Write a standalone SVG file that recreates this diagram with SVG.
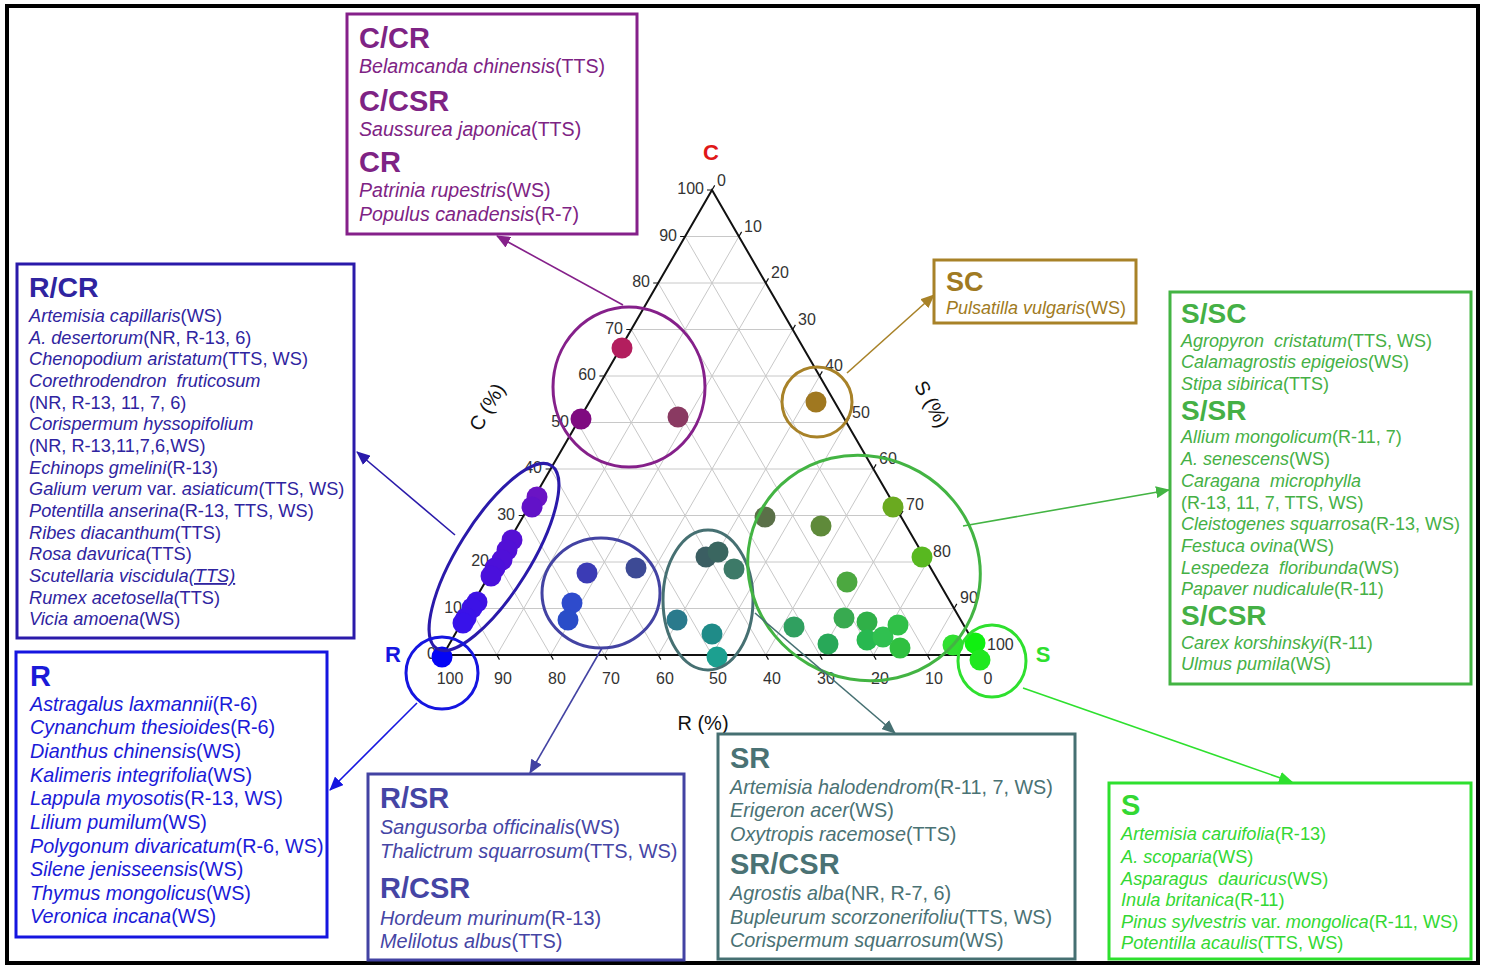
<svg xmlns="http://www.w3.org/2000/svg" width="1486" height="967" viewBox="0 0 1486 967">
<style>
text{font-family:"Liberation Sans",Arial,sans-serif}
.box{fill:#fff;stroke-width:3}
.t{font-weight:bold}
.i{font-style:italic}
.n{font-style:normal}
.tick{font-size:16px;fill:#333}
.grid{stroke:#c8c8c8;stroke-width:1;fill:none}
.ring{fill:none;stroke-width:3}
.con{fill:none;stroke-width:1.6}
</style>
<defs>
<marker id="aPu" markerUnits="userSpaceOnUse" markerWidth="14" markerHeight="12" refX="13" refY="6" orient="auto"><path d="M0,0 L14,6 L0,12 z" fill="#85208A"/></marker>
<marker id="aSC" markerUnits="userSpaceOnUse" markerWidth="14" markerHeight="12" refX="13" refY="6" orient="auto"><path d="M0,0 L14,6 L0,12 z" fill="#A88228"/></marker>
<marker id="aRC" markerUnits="userSpaceOnUse" markerWidth="14" markerHeight="12" refX="13" refY="6" orient="auto"><path d="M0,0 L14,6 L0,12 z" fill="#2A1AAA"/></marker>
<marker id="aR" markerUnits="userSpaceOnUse" markerWidth="14" markerHeight="12" refX="13" refY="6" orient="auto"><path d="M0,0 L14,6 L0,12 z" fill="#1515E0"/></marker>
<marker id="aRS" markerUnits="userSpaceOnUse" markerWidth="14" markerHeight="12" refX="13" refY="6" orient="auto"><path d="M0,0 L14,6 L0,12 z" fill="#4343A3"/></marker>
<marker id="aSR" markerUnits="userSpaceOnUse" markerWidth="14" markerHeight="12" refX="13" refY="6" orient="auto"><path d="M0,0 L14,6 L0,12 z" fill="#467072"/></marker>
<marker id="aG" markerUnits="userSpaceOnUse" markerWidth="14" markerHeight="12" refX="13" refY="6" orient="auto"><path d="M0,0 L14,6 L0,12 z" fill="#43B443"/></marker>
<marker id="aS" markerUnits="userSpaceOnUse" markerWidth="14" markerHeight="12" refX="13" refY="6" orient="auto"><path d="M0,0 L14,6 L0,12 z" fill="#2EE02E"/></marker>
</defs>
<rect x="0" y="0" width="1486" height="967" fill="#fff"/>
<rect x="7" y="6" width="1471" height="957" fill="none" stroke="#000" stroke-width="4"/>

<!-- ternary plot -->
<g id="plot">
<path class="grid" d="M469.9,608.5H954.1M496.8,562H927.2M523.7,515.5H900.3M550.6,469H873.4M577.5,422.5H846.5M604.4,376H819.6M631.3,329.5H792.7M658.2,283H765.8M685.1,236.5H738.9
M496.8,655L738.9,236.5M550.6,655L765.8,283M604.4,655L792.7,329.5M658.2,655L819.6,376M712,655L846.5,422.5M765.8,655L873.4,469M819.6,655L900.3,515.5M873.4,655L927.2,562M927.2,655L954.1,608.5
M496.8,655L469.9,608.5M550.6,655L496.8,562M604.4,655L523.7,515.5M658.2,655L550.6,469M712,655L577.5,422.5M765.8,655L604.4,376M819.6,655L631.3,329.5M873.4,655L658.2,283M927.2,655L685.1,236.5"/>
<path d="M712,190L443,655L981,655Z" fill="none" stroke="#111" stroke-width="2"/>
<path stroke="#111" stroke-width="1.2" d="M443,655h-5M469.9,608.5h-5M496.8,562h-5M523.7,515.5h-5M550.6,469h-5M577.5,422.5h-5M604.4,376h-5M631.3,329.5h-5M658.2,283h-5M685.1,236.5h-5M712,190h-5
M712,190l2.7,-4.6M738.9,236.5l2.7,-4.6M765.8,283l2.7,-4.6M792.7,329.5l2.7,-4.6M819.6,376l2.7,-4.6M846.5,422.5l2.7,-4.6M873.4,469l2.7,-4.6M900.3,515.5l2.7,-4.6M927.2,562l2.7,-4.6M954.1,608.5l2.7,-4.6M981,655l2.7,-4.6
M443,655l2.7,4.6M496.8,655l2.7,4.6M550.6,655l2.7,4.6M604.4,655l2.7,4.6M658.2,655l2.7,4.6M712,655l2.7,4.6M765.8,655l2.7,4.6M819.6,655l2.7,4.6M873.4,655l2.7,4.6M927.2,655l2.7,4.6M981,655l2.7,4.6"/>
<g class="tick" text-anchor="end">
<text x="704" y="194">100</text><text x="677" y="241">90</text><text x="650" y="287">80</text><text x="623" y="334">70</text><text x="596" y="380">60</text><text x="569" y="427">50</text><text x="542" y="473">40</text><text x="515" y="520">30</text><text x="489" y="566">20</text><text x="462" y="613">10</text><text x="436" y="659">0</text>
</g>
<g class="tick">
<text x="717" y="186">0</text><text x="744" y="232">10</text><text x="771" y="278">20</text><text x="798" y="325">30</text><text x="825" y="371">40</text><text x="852" y="418">50</text><text x="879" y="464">60</text><text x="906" y="510">70</text><text x="933" y="557">80</text><text x="960" y="603">90</text><text x="987" y="650">100</text>
</g>
<g class="tick" text-anchor="middle">
<text x="450" y="684">100</text><text x="503" y="684">90</text><text x="557" y="684">80</text><text x="611" y="684">70</text><text x="665" y="684">60</text><text x="718" y="684">50</text><text x="772" y="684">40</text><text x="826" y="684">30</text><text x="880" y="684">20</text><text x="934" y="684">10</text><text x="988" y="684">0</text>
</g>
<text x="711" y="160" text-anchor="middle" font-size="22" font-weight="bold" fill="#E01818">C</text>
<text x="393" y="662" text-anchor="middle" font-size="22" font-weight="bold" fill="#1515E0">R</text>
<text x="1043" y="662" text-anchor="middle" font-size="22" font-weight="bold" fill="#2EE02E">S</text>
<text x="703" y="730" text-anchor="middle" font-size="20" fill="#111">R (%)</text>
<text transform="translate(487,407) rotate(-60)" text-anchor="middle" y="7" font-size="20" fill="#111">C (%)</text>
<text transform="translate(932,404) rotate(60)" text-anchor="middle" y="7" font-size="20" fill="#111">S (%)</text>

<!-- points -->
<g>
<circle cx="622" cy="348" r="10.5" fill="#B31E5E"/>
<circle cx="581" cy="419" r="10.5" fill="#7F0A80"/>
<circle cx="678" cy="417" r="10.5" fill="#8A3A62"/>
<circle cx="816" cy="402" r="10.5" fill="#A07820"/>
<circle cx="537" cy="497" r="10.5" fill="#6A14C4"/>
<circle cx="532" cy="507" r="10.5" fill="#6212C8"/>
<circle cx="512" cy="540" r="10.5" fill="#5510D4"/>
<circle cx="507" cy="550" r="10.5" fill="#5210D6"/>
<circle cx="502" cy="560" r="10.5" fill="#5010D8"/>
<circle cx="495" cy="568" r="10.5" fill="#4C10DA"/>
<circle cx="491" cy="576" r="10.5" fill="#4A10DC"/>
<circle cx="477" cy="602" r="10.5" fill="#3E12E4"/>
<circle cx="472" cy="608" r="10.5" fill="#3C12E6"/>
<circle cx="466" cy="618" r="10.5" fill="#3A12E8"/>
<circle cx="463" cy="623" r="10.5" fill="#3812EA"/>
<circle cx="442" cy="657" r="10.5" fill="#0505F5"/>
<circle cx="587" cy="573" r="10.5" fill="#3B3BB5"/>
<circle cx="636" cy="568" r="10.5" fill="#3D4A95"/>
<circle cx="572" cy="603" r="10.5" fill="#2E4BCC"/>
<circle cx="568" cy="620" r="10.5" fill="#2A4DC8"/>
<circle cx="706" cy="557" r="10.5" fill="#3B5E62"/>
<circle cx="718" cy="552" r="10.5" fill="#3A6660"/>
<circle cx="734" cy="569" r="10.5" fill="#3D7A68"/>
<circle cx="677" cy="620" r="10.5" fill="#2A7A8C"/>
<circle cx="712" cy="634" r="10.5" fill="#1F8B88"/>
<circle cx="717" cy="657" r="10.5" fill="#1CA090"/>
<circle cx="765" cy="517" r="10.5" fill="#5A7048"/>
<circle cx="821" cy="526" r="10.5" fill="#5F8A3A"/>
<circle cx="893" cy="507" r="10.5" fill="#6AAA20"/>
<circle cx="922" cy="557" r="10.5" fill="#58B820"/>
<circle cx="847" cy="582" r="10.5" fill="#4CA840"/>
<circle cx="794" cy="627" r="10.5" fill="#30A060"/>
<circle cx="828" cy="644" r="10.5" fill="#28A858"/>
<circle cx="844" cy="618" r="10.5" fill="#38AA50"/>
<circle cx="867" cy="622" r="10.5" fill="#30B048"/>
<circle cx="867" cy="640" r="10.5" fill="#28B850"/>
<circle cx="883" cy="637" r="10.5" fill="#30C050"/>
<circle cx="898" cy="625" r="10.5" fill="#30C048"/>
<circle cx="900" cy="648" r="10.5" fill="#30C040"/>
<circle cx="953" cy="645" r="10.5" fill="#30E030"/>
<circle cx="975" cy="643" r="10.5" fill="#10F010"/>
<circle cx="980" cy="660" r="10.5" fill="#20E820"/>
</g>
</g>

<!-- group rings -->
<g id="rings">
<ellipse class="ring" cx="629" cy="387" rx="76" ry="80" stroke="#85208A"/>
<circle class="ring" cx="817" cy="402" r="35" stroke="#A88228"/>
<ellipse class="ring" cx="494" cy="557" rx="108" ry="36" transform="rotate(-58 494 557)" stroke="#2A1AAA"/>
<circle class="ring" cx="442" cy="673" r="36" stroke="#1515E0"/>
<ellipse class="ring" cx="601" cy="593" rx="59" ry="55" stroke="#4343A3"/>
<ellipse class="ring" cx="708" cy="600" rx="45" ry="70" stroke="#467072"/>
<ellipse class="ring" cx="864" cy="568" rx="118" ry="111" transform="rotate(30 864 568)" stroke="#43B443"/>
<ellipse class="ring" cx="992" cy="661" rx="34" ry="36" stroke="#2EE02E"/>
</g>

<!-- connectors -->
<g id="connectors">
<line class="con" x1="623" y1="305" x2="497" y2="236" stroke="#85208A" marker-end="url(#aPu)"/>
<line class="con" x1="847" y1="373" x2="934" y2="295" stroke="#A88228" marker-end="url(#aSC)"/>
<line class="con" x1="455" y1="535" x2="357" y2="452" stroke="#2A1AAA" marker-end="url(#aRC)"/>
<line class="con" x1="417" y1="703" x2="330" y2="790" stroke="#1515E0" marker-end="url(#aR)"/>
<line class="con" x1="602" y1="648" x2="530" y2="773" stroke="#4343A3" marker-end="url(#aRS)"/>
<line class="con" x1="755" y1="613" x2="895" y2="733" stroke="#467072" marker-end="url(#aSR)"/>
<line class="con" x1="963" y1="526" x2="1169" y2="490" stroke="#43B443" marker-end="url(#aG)"/>
<line class="con" x1="1023" y1="688" x2="1292" y2="782" stroke="#2EE02E" marker-end="url(#aS)"/>
</g>

<!-- boxes -->
<g id="box-c" fill="#7E2384">
<rect class="box" x="347" y="14" width="290" height="220" stroke="#85208A"/>
<text x="359" y="48" class="t" font-size="29">C/CR</text>
<text x="359" y="73" font-size="19.6"><tspan class="i">Belamcanda chinensis</tspan>(TTS)</text>
<text x="359" y="111" class="t" font-size="29">C/CSR</text>
<text x="359" y="136" font-size="19.6"><tspan class="i">Saussurea japonica</tspan>(TTS)</text>
<text x="359" y="172" class="t" font-size="29">CR</text>
<text x="359" y="197" font-size="19.6"><tspan class="i">Patrinia rupestris</tspan>(WS)</text>
<text x="359" y="221" font-size="19.6"><tspan class="i">Populus canadensis</tspan>(R-7)</text>
</g>

<g id="box-rcr" fill="#2F24A0" font-size="18.2">
<rect class="box" x="17" y="264" width="337" height="374" stroke="#2A1AAA"/>
<text x="29" y="297" class="t" font-size="28.5">R/CR</text>
<text x="29" y="322"><tspan class="i">Artemisia capillaris</tspan>(WS)</text>
<text x="29" y="344"><tspan class="i">A. desertorum</tspan>(NR,  R-13, 6)</text>
<text x="29" y="365"><tspan class="i">Chenopodium aristatum</tspan>(TTS, WS)</text>
<text x="29" y="387" class="i" xml:space="preserve">Corethrodendron  fruticosum</text>
<text x="29" y="409">(NR, R-13, 11, 7, 6)</text>
<text x="29" y="430" class="i">Corispermum hyssopifolium</text>
<text x="29" y="452">(NR, R-13,11,7,6,WS)</text>
<text x="29" y="474"><tspan class="i">Echinops gmelini</tspan>(R-13)</text>
<text x="29" y="495"><tspan class="i">Galium verum</tspan> var. <tspan class="i">asiaticum</tspan>(TTS, WS)</text>
<text x="29" y="517"><tspan class="i">Potentilla anserina</tspan>(R-13, TTS, WS)</text>
<text x="29" y="539"><tspan class="i">Ribes diacanthum</tspan>(TTS)</text>
<text x="29" y="560"><tspan class="i">Rosa davurica</tspan>(TTS)</text>
<text x="29" y="582"><tspan class="i">Scutellaria viscidula</tspan><tspan class="i" text-decoration="underline">(TTS)</tspan></text>
<text x="29" y="604"><tspan class="i">Rumex acetosella</tspan>(TTS)</text>
<text x="29" y="625"><tspan class="i">Vicia amoena</tspan>(WS)</text>
</g>

<g id="box-r" fill="#1A1AD8" font-size="19.8">
<rect class="box" x="16" y="652" width="311" height="285" stroke="#1515E0"/>
<text x="30" y="686" class="t" font-size="29">R</text>
<text x="30" y="711"><tspan class="i">Astragalus laxmannii</tspan>(R-6)</text>
<text x="30" y="734"><tspan class="i">Cynanchum thesioides</tspan>(R-6)</text>
<text x="30" y="758"><tspan class="i">Dianthus chinensis</tspan>(WS)</text>
<text x="30" y="782"><tspan class="i">Kalimeris integrifolia</tspan>(WS)</text>
<text x="30" y="805"><tspan class="i">Lappula myosotis</tspan>(R-13, WS)</text>
<text x="30" y="829"><tspan class="i">Lilium pumilum</tspan>(WS)</text>
<text x="30" y="853"><tspan class="i">Polygonum divaricatum</tspan>(R-6, WS)</text>
<text x="30" y="876"><tspan class="i">Silene jenisseensis</tspan>(WS)</text>
<text x="30" y="900"><tspan class="i">Thymus mongolicus</tspan>(WS)</text>
<text x="30" y="923"><tspan class="i">Veronica incana</tspan>(WS)</text>
</g>

<g id="box-rsr" fill="#4545A5" font-size="19.9">
<rect class="box" x="368" y="774" width="316" height="186" stroke="#4343A3"/>
<text x="380" y="808" class="t" font-size="29">R/SR</text>
<text x="380" y="834"><tspan class="i">Sangusorba officinalis</tspan>(WS)</text>
<text x="380" y="858"><tspan class="i">Thalictrum squarrosum</tspan>(TTS, WS)</text>
<text x="380" y="898" class="t" font-size="29">R/CSR</text>
<text x="380" y="925"><tspan class="i">Hordeum murinum</tspan>(R-13)</text>
<text x="380" y="948"><tspan class="i">Melilotus albus</tspan>(TTS)</text>
</g>

<g id="box-sr" fill="#4A7274" font-size="19.8">
<rect class="box" x="718" y="734" width="357" height="225" stroke="#467072"/>
<text x="730" y="768" class="t" font-size="29">SR</text>
<text x="730" y="794"><tspan class="i">Artemisia halodendrom</tspan>(R-11, 7, WS)</text>
<text x="730" y="817"><tspan class="i">Erigeron acer</tspan>(WS)</text>
<text x="730" y="841"><tspan class="i">Oxytropis racemose</tspan>(TTS)</text>
<text x="730" y="874" class="t" font-size="29">SR/CSR</text>
<text x="730" y="900"><tspan class="i">Agrostis alba</tspan>(NR, R-7, 6)</text>
<text x="730" y="924"><tspan class="i">Bupleurum scorzonerifoliu</tspan>(TTS, WS)</text>
<text x="730" y="947"><tspan class="i">Corispermum squarrosum</tspan>(WS)</text>
</g>

<g id="box-s" fill="#33D833" font-size="18.2">
<rect class="box" x="1109" y="783" width="362" height="176" stroke="#2EE02E"/>
<text x="1121" y="815" class="t" font-size="29">S</text>
<text x="1121" y="840"><tspan class="i">Artemisia caruifolia</tspan>(R-13)</text>
<text x="1121" y="863"><tspan class="i">A. scoparia</tspan>(WS)</text>
<text x="1121" y="885"><tspan class="i" xml:space="preserve">Asparagus  dauricus</tspan>(WS)</text>
<text x="1121" y="906"><tspan class="i">Inula britanica</tspan>(R-11)</text>
<text x="1121" y="928"><tspan class="i">Pinus sylvestris</tspan> var. <tspan class="i">mongolica</tspan>(R-11, WS)</text>
<text x="1121" y="949"><tspan class="i">Potentilla acaulis</tspan>(TTS, WS)</text>
</g>

<g id="box-ssc" fill="#45B045" font-size="18">
<rect class="box" x="1170" y="292" width="301" height="392" stroke="#43B443"/>
<text x="1181" y="323" class="t" font-size="28">S/SC</text>
<text x="1181" y="347"><tspan class="i" xml:space="preserve">Agropyron  cristatum</tspan>(TTS, WS)</text>
<text x="1181" y="368"><tspan class="i">Calamagrostis epigeios</tspan>(WS)</text>
<text x="1181" y="390"><tspan class="i">Stipa sibirica</tspan>(TTS)</text>
<text x="1181" y="420" class="t" font-size="28">S/SR</text>
<text x="1181" y="443"><tspan class="i">Allium mongolicum</tspan>(R-11, 7)</text>
<text x="1181" y="465"><tspan class="i">A. senescens</tspan>(WS)</text>
<text x="1181" y="487" class="i" xml:space="preserve">Caragana  microphylla</text>
<text x="1181" y="509">(R-13, 11, 7, TTS, WS)</text>
<text x="1181" y="530"><tspan class="i">Cleistogenes squarrosa</tspan>(R-13, WS)</text>
<text x="1181" y="552"><tspan class="i">Festuca ovina</tspan>(WS)</text>
<text x="1181" y="574"><tspan class="i" xml:space="preserve">Lespedeza  floribunda</tspan>(WS)</text>
<text x="1181" y="595"><tspan class="i">Papaver nudicalule</tspan>(R-11)</text>
<text x="1181" y="625" class="t" font-size="28">S/CSR</text>
<text x="1181" y="649"><tspan class="i">Carex korshinskyi</tspan>(R-11)</text>
<text x="1181" y="670"><tspan class="i">Ulmus pumila</tspan>(WS)</text>
</g>

<g id="box-sc" fill="#A07A22" font-size="18">
<rect class="box" x="934" y="260" width="202" height="63" stroke="#A88228"/>
<text x="946" y="291" class="t" font-size="27">SC</text>
<text x="946" y="314"><tspan class="i">Pulsatilla vulgaris</tspan>(WS)</text>
</g>
</svg>
